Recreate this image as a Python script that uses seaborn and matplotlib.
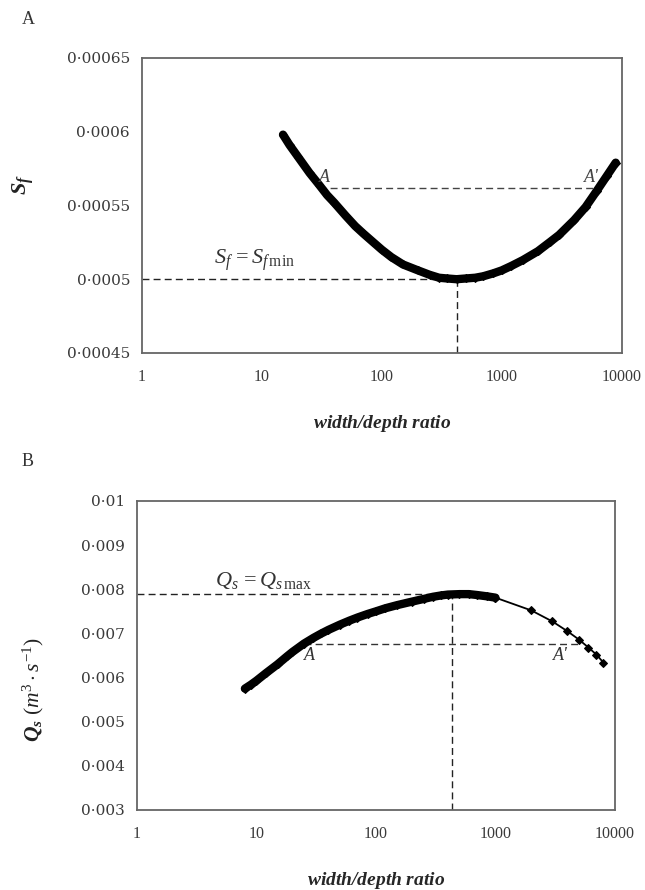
import numpy as np
import pandas as pd
import seaborn as sns
import matplotlib.pyplot as plt
from matplotlib.ticker import FixedLocator, FuncFormatter

sns.set_style('white')
plt.rcParams['font.family'] = ['Liberation Serif', 'DejaVu Serif']
plt.rcParams['mathtext.fontset'] = 'custom'
plt.rcParams['mathtext.rm'] = 'Liberation Serif'
plt.rcParams['mathtext.it'] = 'Liberation Serif:italic'
plt.rcParams['mathtext.bf'] = 'Liberation Serif:bold:italic'

# panel A : friction slope vs width/depth ratio
wd_a = [15, 17, 20, 25, 30, 35, 40, 50, 60, 70, 85, 100, 120, 150, 200, 250,
        300, 350, 420, 500, 600, 700, 850, 1000, 1200, 1500, 2000, 2500, 3000,
        4000, 5000, 6200, 7500, 8900]
sf_a = [0.000598, 0.000591, 0.000583, 0.000572, 0.000564, 0.000557, 0.000552,
        0.000543, 0.000536, 0.000531, 0.000525, 0.000520, 0.000515, 0.000510,
        0.000506, 0.000503, 0.000501, 0.0005005, 0.000500, 0.0005005,
        0.000501, 0.000502, 0.000504, 0.000506, 0.000509, 0.000513, 0.000519,
        0.000525, 0.000530, 0.000540, 0.000549, 0.000560, 0.000570, 0.000579]
sf_min = 0.0005
wd_opt_a = 420
sf_aa = 0.000562
wd_aa = [30, 6400]

# panel B : sediment discharge vs width/depth ratio
wd_b_dense = [8, 9, 10, 12, 15, 18, 20, 25, 30, 35, 40, 50, 60, 70, 85, 100,
              120, 150, 200, 250, 300, 350, 400, 500, 600, 700, 850, 1000]
qs_b_dense = [0.00575, 0.00584, 0.00593, 0.00610, 0.00630, 0.00648, 0.00658,
              0.00677, 0.00690, 0.00700, 0.00708, 0.00720, 0.00729, 0.00736,
              0.00744, 0.00750, 0.00757, 0.00764, 0.00772, 0.00778, 0.00783,
              0.00786, 0.00788, 0.00789, 0.00789, 0.00787, 0.00784, 0.00781]
wd_b_sparse = [1000, 2000, 3000, 4000, 5000, 6000, 7000, 8000]
qs_b_sparse = [0.00781, 0.00752, 0.00727, 0.00705, 0.00686, 0.00668, 0.00652,
               0.00634]
qs_max = 0.00789
wd_opt_b = 435
qs_aa = 0.00677
wd_bb = [25, 5100]

a_ticks = [0.00045, 0.0005, 0.00055, 0.0006, 0.00065]
b_ticks = [0.003, 0.004, 0.005, 0.006, 0.007, 0.008, 0.009, 0.01]
x_ticks = [1, 10, 100, 1000, 10000]

fig = plt.figure(figsize=(6.45, 8.9), dpi=100)
axA = fig.add_axes([0.220, 0.6034, 0.744, 0.3315])
axB = fig.add_axes([0.2124, 0.0899, 0.741, 0.3472])

def dot_fmt(v, pos):
    s = ('%.5f' % v).rstrip('0')
    return s.replace('.', '·')

def style_ax(ax, yt):
    ax.set_xscale('log')
    ax.set_xlim(1, 10000)
    ax.set_ylim(yt[0], yt[-1])
    ax.xaxis.set_major_locator(FixedLocator(x_ticks))
    ax.xaxis.set_minor_locator(FixedLocator([]))
    ax.xaxis.set_major_formatter(FuncFormatter(lambda v, p: '%d' % v))
    ax.yaxis.set_major_locator(FixedLocator(yt))
    ax.yaxis.set_major_formatter(FuncFormatter(dot_fmt))
    ax.tick_params(axis='both', which='major', direction='inout', length=5,
                   color='#cccccc', labelcolor='#3a3a3a')
    ax.tick_params(axis='x', pad=9, labelsize=11.5)
    ax.tick_params(axis='y', pad=6, labelsize=11)
    for t in ax.get_yticklabels():
        t.set_family('DejaVu Serif')
    for sp in ax.spines.values():
        sp.set_color('#666666')
        sp.set_linewidth(1.3)
    ax.set_xlabel(r'$\mathbf{width/depth\ ratio}$', fontsize=14, labelpad=20)

line_kw = dict(color='black', marker='D', markersize=4,
               markeredgecolor='black', solid_joinstyle='round',
               solid_capstyle='round', zorder=3)
dash = (0, (5, 3))

# ---- A
dfA = pd.DataFrame({'wd': wd_a, 'sf': sf_a})
sns.lineplot(data=dfA, x='wd', y='sf', ax=axA, lw=6, **line_kw)
axA.plot([1, wd_opt_a], [sf_min, sf_min], ls=dash, color='#222222', lw=1)
axA.plot([wd_opt_a, wd_opt_a], [a_ticks[0], sf_min], ls=dash,
         color='#222222', lw=1)
axA.plot(wd_aa, [sf_aa, sf_aa], ls=dash, color='#444444', lw=1)
axA.text(wd_aa[0], sf_aa + 0.0000015, 'A', style='italic', fontsize=13,
         color='#444444', ha='left', va='bottom')
axA.text(wd_aa[1], sf_aa + 0.0000015, "A'", style='italic', fontsize=13,
         color='#444444', ha='right', va='bottom')
axA.text(4.0, sf_min + 0.000004, r'$S_f\,=S_{f\,\mathrm{min}}$', fontsize=16,
         color='#333333', ha='left', va='bottom')
style_ax(axA, a_ticks)
axA.set_ylabel(r'$\mathbf{S_f}$', fontsize=16, color='#222222')
axA.yaxis.set_label_coords(-0.22, 0.57)

# ---- B
dfB1 = pd.DataFrame({'wd': wd_b_dense, 'qs': qs_b_dense})
dfB2 = pd.DataFrame({'wd': wd_b_sparse, 'qs': qs_b_sparse})
sns.lineplot(data=dfB1, x='wd', y='qs', ax=axB, lw=6, **line_kw)
sns.lineplot(data=dfB2, x='wd', y='qs', ax=axB, lw=1.3, **line_kw)
axB.plot([1, wd_opt_b], [qs_max, qs_max], ls=dash, color='#222222', lw=1)
axB.plot([wd_opt_b, wd_opt_b], [b_ticks[0], qs_max], ls=dash,
         color='#222222', lw=1)
axB.plot(wd_bb, [qs_aa, qs_aa], ls=dash, color='#333333', lw=1)
axB.text(wd_bb[0], qs_aa - 0.00007, 'A', style='italic', fontsize=13,
         color='#333333', ha='left', va='top')
axB.text(3500, qs_aa - 0.00007, "A'", style='italic', fontsize=13,
         color='#333333', ha='center', va='top')
axB.text(4.5, qs_max + 0.00008, r'$Q_s\,=Q_{s\,\mathrm{max}}$', fontsize=16,
         color='#333333', ha='left', va='bottom')
style_ax(axB, b_ticks)
axB.set_ylabel(r'$\mathbf{Q_s}\ (m^3\cdot s^{-1})$', fontsize=15.5,
               color='#222222')
axB.yaxis.set_label_coords(-0.19, 0.39)

fig.text(0.034, 0.978, 'A', fontsize=13, color='#333333', va='center')
fig.text(0.034, 0.481, 'B', fontsize=13, color='#333333', va='center')

fig.savefig('out.png', dpi=100)
